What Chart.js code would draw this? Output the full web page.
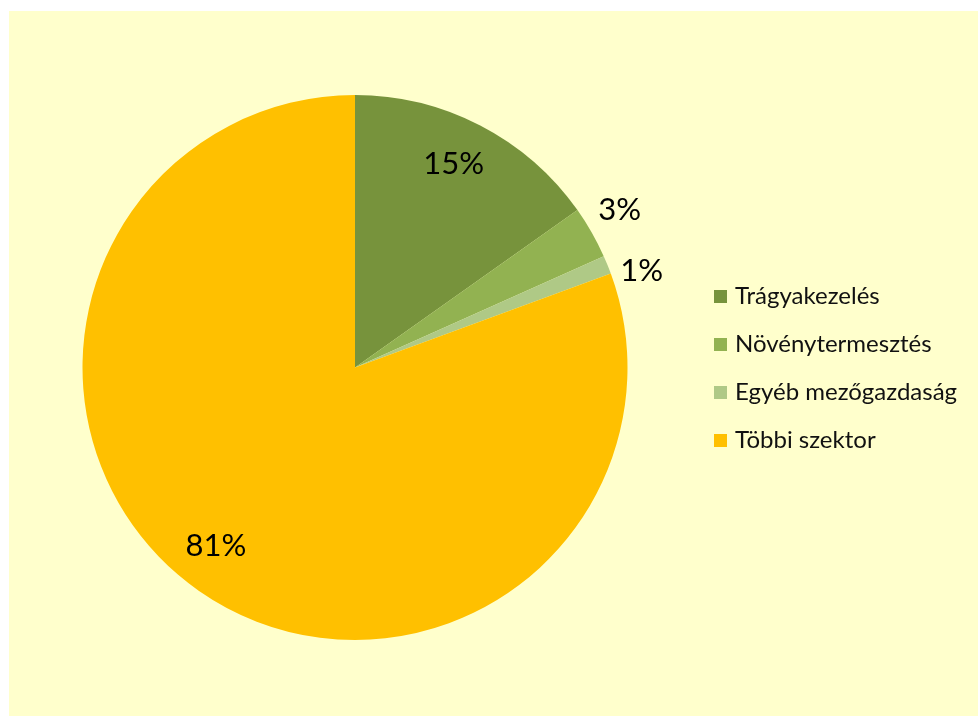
<!DOCTYPE html>
<html>
<head>
<meta charset="utf-8">
<script src="https://cdn.jsdelivr.net/npm/chart.js@4"></script>
<style>
html,body{margin:0;padding:0;background:#fff;}
#wrap{width:978px;height:717px;position:relative;}
</style>
</head>
<body>
<div id="wrap"><canvas id="c" width="978" height="717"></canvas></div>
<script>
const categories = ["Trágyakezelés", "Növénytermesztés", "Egyéb mezőgazdaság", "Többi szektor"];
const shares = [15.2, 3.1, 1.1, 80.6];
const percentLabels = ["15%", "3%", "1%", "81%"];
const sliceColors = ["#77933C", "#92B251", "#AFC986", "#FFC000"];

const FONT = "Lato, 'Open Sans', sans-serif";

// label placement: radius factor and small angle nudge (degrees)
const labelPlacement = [
  {r: 0.83, da: -1.5},
  {r: 1.13, da: -1},
  {r: 1.11, da: 3.5},
  {r: 0.83, da: 3}
];

const bgPlugin = {
  id: 'bg',
  beforeDraw(chart) {
    const ctx = chart.ctx;
    ctx.save();
    ctx.fillStyle = '#FFFFFF';
    ctx.fillRect(0, 0, chart.width, chart.height);
    ctx.fillStyle = '#FFFFCC';
    ctx.fillRect(9, 11, chart.width - 9, chart.height - 12);
    ctx.restore();
  }
};

const labelPlugin = {
  id: 'pctLabels',
  afterDatasetsDraw(chart) {
    const ctx = chart.ctx;
    const meta = chart.getDatasetMeta(0);
    ctx.save();
    ctx.font = "31px " + FONT;
    ctx.fillStyle = '#000';
    ctx.textAlign = 'center';
    ctx.textBaseline = 'middle';
    meta.data.forEach((arc, i) => {
      const p = arc.getProps(['x', 'y', 'startAngle', 'endAngle', 'outerRadius'], true);
      const mid = (p.startAngle + p.endAngle) / 2 + labelPlacement[i].da * Math.PI / 180;
      const rr = p.outerRadius * labelPlacement[i].r;
      ctx.fillText(percentLabels[i], p.x + Math.cos(mid) * rr, p.y + Math.sin(mid) * rr);
    });
    ctx.restore();
  }
};

const legendPlugin = {
  id: 'sideLegend',
  afterDraw(chart) {
    const ctx = chart.ctx;
    const area = chart.chartArea;
    const x0 = area.right + 86;
    const yMid = (area.top + area.bottom) / 2;
    const step = 48;
    const n = categories.length;
    const yStart = yMid - ((n - 1) * step) / 2 + 1;
    ctx.save();
    ctx.font = "24px " + FONT;
    ctx.textBaseline = 'middle';
    ctx.textAlign = 'left';
    categories.forEach((name, i) => {
      const y = yStart + i * step;
      ctx.fillStyle = sliceColors[i];
      ctx.fillRect(x0, y - 6.5, 13, 13);
      ctx.fillStyle = '#111';
      ctx.fillText(name, x0 + 21, y);
    });
    ctx.restore();
  }
};

new Chart(document.getElementById('c'), {
  type: 'pie',
  data: {
    labels: categories,
    datasets: [{
      data: shares,
      backgroundColor: sliceColors,
      borderWidth: 0,
      hoverOffset: 0
    }]
  },
  options: {
    responsive: false,
    animation: false,
    events: [],
    layout: { padding: { top: 95, bottom: 77, left: 82, right: 350 } },
    plugins: {
      legend: { display: false },
      tooltip: { enabled: false }
    }
  },
  plugins: [bgPlugin, labelPlugin, legendPlugin]
});
</script>
</body>
</html>
